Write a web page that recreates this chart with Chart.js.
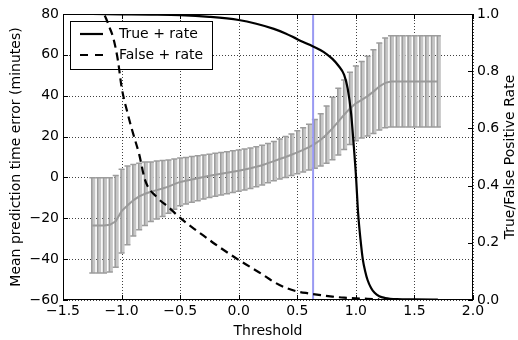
<!DOCTYPE html>
<html>
<head>
<meta charset="utf-8">
<script src="https://cdn.jsdelivr.net/npm/chart.js@4/dist/chart.umd.min.js"></script>
<style>
  html, body { margin: 0; padding: 0; background: #fff; }
  #wrap { width: 518px; height: 340px; }
</style>
</head>
<body>
<div id="wrap"><canvas id="chart" width="518" height="340"></canvas></div>
<script>
// thresholds where the mean error was measured
const thresholds = [
  -1.25, -1.20, -1.15, -1.10, -1.05, -1.00, -0.95, -0.90, -0.85, -0.80,
  -0.75, -0.70, -0.65, -0.60, -0.55, -0.50, -0.45, -0.40, -0.35, -0.30,
  -0.25, -0.20, -0.15, -0.10, -0.05, 0.00, 0.05, 0.10, 0.15, 0.20,
  0.25, 0.30, 0.35, 0.40, 0.45, 0.50, 0.55, 0.60, 0.65, 0.70,
  0.75, 0.80, 0.85, 0.90, 0.95, 1.00, 1.05, 1.10, 1.15, 1.20,
  1.25, 1.30, 1.35, 1.40, 1.45, 1.50, 1.55, 1.60, 1.65, 1.70
];
const meanError = [
  -23.5, -23.5, -23.5, -23.2, -21.5, -16.5, -13.7, -11.2, -9.3, -8.0,
  -7.0, -6.2, -5.4, -4.5, -3.3, -2.2, -1.6, -1.0, -0.4, 0.2,
  0.8, 1.3, 1.8, 2.3, 2.8, 3.3, 3.9, 4.5, 5.2, 6.0,
  7.0, 8.0, 9.0, 10.0, 11.1, 12.3, 13.5, 14.8, 16.4, 18.4,
  21.0, 24.0, 27.3, 30.7, 33.8, 36.3, 38.0, 39.8, 42.0, 44.5,
  46.3, 47.0, 47.0, 47.0, 47.0, 47.0, 47.0, 47.0, 47.0, 47.0
];
const errSize = [
  23.3, 23.3, 23.3, 23.1, 22.5, 20.5, 19.3, 17.5, 16.3, 15.5,
  14.6, 14.2, 13.7, 13.0, 12.3, 11.7, 11.4, 11.2, 11.0, 10.8,
  10.6, 10.5, 10.4, 10.3, 10.2, 10.1, 10.0, 9.9, 9.8, 9.7,
  9.6, 9.6, 9.8, 10.0, 10.2, 10.5, 10.8, 11.2, 11.9, 12.8,
  14.0, 15.3, 16.3, 17.0, 17.7, 18.3, 18.7, 19.5, 20.5, 21.3,
  22.0, 22.3, 22.3, 22.3, 22.3, 22.3, 22.3, 22.3, 22.3, 22.3
];

// true positive rate curve
const tprX = [-1.25, -1.0, -0.75, -0.5, -0.25, 0.0, 0.15, 0.3, 0.4, 0.5, 0.6, 0.7, 0.75, 0.8, 0.85, 0.9,
  0.93, 0.96, 0.98, 1.0, 1.02, 1.04, 1.06, 1.08, 1.1, 1.13, 1.16, 1.2, 1.25, 1.35, 1.5, 1.7];
const tprY = [1.0, 0.999, 0.998, 0.996, 0.99, 0.979, 0.966, 0.948, 0.932, 0.912, 0.893, 0.873, 0.86, 0.843, 0.82, 0.787,
  0.74, 0.65, 0.55, 0.44, 0.30, 0.21, 0.14, 0.10, 0.07, 0.042, 0.025, 0.013, 0.007, 0.003, 0.002, 0.001];

// false positive rate curve
const fprX = [-1.25, -1.2, -1.16, -1.1, -1.07, -1.03, -1.0, -0.95, -0.9, -0.85, -0.8, -0.7, -0.6, -0.5, -0.4,
  -0.3, -0.2, -0.1, 0.0, 0.1, 0.2, 0.3, 0.4, 0.5, 0.6, 0.7, 0.8, 0.9, 1.0, 1.1, 1.2];
const fprY = [1.0, 1.0, 1.0, 0.95, 0.915, 0.835, 0.745, 0.655, 0.58, 0.51, 0.42, 0.36, 0.325, 0.287, 0.255,
  0.225, 0.195, 0.167, 0.14, 0.115, 0.09, 0.063, 0.043, 0.03, 0.023, 0.017, 0.012, 0.008, 0.006, 0.004, 0.002];

const chosenThreshold = 0.635;

const xTicks = [-1.5, -1.0, -0.5, 0.0, 0.5, 1.0, 1.5, 2.0];
const errTicks = [-60, -40, -20, 0, 20, 40, 60, 80];
const rateTicks = [0.0, 0.2, 0.4, 0.6, 0.8, 1.0];

const FONT = 'DejaVu Sans';
Chart.defaults.font.family = FONT;
Chart.defaults.font.size = 14;
Chart.defaults.color = '#000';

const minus = s => s.replace('-', '\u2212');

const drawPlot = {
  id: 'drawPlot',
  beforeDatasetsDraw(chart) {
    const {ctx, chartArea: a, scales} = chart;
    ctx.save();
    ctx.strokeStyle = 'rgba(0,0,0,0.75)';
    ctx.lineWidth = 1;
    ctx.setLineDash([1, 2]);
    xTicks.forEach(v => {
      const px = Math.round(scales.x.getPixelForValue(v)) + 0.5;
      ctx.beginPath(); ctx.moveTo(px, a.top); ctx.lineTo(px, a.bottom); ctx.stroke();
    });
    errTicks.forEach(v => {
      const py = Math.round(scales.y.getPixelForValue(v)) + 0.5;
      ctx.beginPath(); ctx.moveTo(a.left, py); ctx.lineTo(a.right, py); ctx.stroke();
    });
    ctx.restore();
  },
  beforeDatasetDraw(chart, args) {
    const {ctx, scales} = chart;
    if (args.index === 0) {
      // error bars
      ctx.save();
      thresholds.forEach((t, i) => {
        const px = scales.x.getPixelForValue(t);
        const top = scales.y.getPixelForValue(meanError[i] + errSize[i]);
        const bot = scales.y.getPixelForValue(meanError[i] - errSize[i]);
        ctx.fillStyle = '#c6c6c6';
        ctx.fillRect(px - 1, top, 4, bot - top);
        ctx.strokeStyle = '#9c9c9c';
        ctx.lineWidth = 1.5;
        ctx.beginPath(); ctx.moveTo(px - 0.5, top); ctx.lineTo(px - 0.5, bot); ctx.stroke();
        ctx.beginPath();
        ctx.moveTo(px - 3, top); ctx.lineTo(px + 3, top);
        ctx.moveTo(px - 3, bot); ctx.lineTo(px + 3, bot);
        ctx.stroke();
      });
      ctx.restore();
    }
    if (args.index === 2) {
      // legend sits under the rate curves
      ctx.save();
      ctx.fillStyle = '#fff';
      ctx.fillRect(70, 21, 143, 49);
      ctx.strokeStyle = '#000';
      ctx.lineWidth = 1;
      ctx.strokeRect(70.5, 21.5, 142, 48);
      ctx.lineWidth = 2.2;
      ctx.beginPath(); ctx.moveTo(80, 34); ctx.lineTo(103, 34); ctx.stroke();
      ctx.setLineDash([8, 7]);
      ctx.beginPath(); ctx.moveTo(80, 55); ctx.lineTo(103, 55); ctx.stroke();
      ctx.setLineDash([]);
      ctx.fillStyle = '#000';
      ctx.font = '14px ' + FONT;
      ctx.textBaseline = 'middle';
      ctx.fillText('True + rate', 119, 34);
      ctx.fillText('False + rate', 119, 55);
      ctx.restore();
    }
  },
  afterDraw(chart) {
    const {ctx, chartArea: a, scales} = chart;
    ctx.save();
    ctx.strokeStyle = '#000';
    ctx.lineWidth = 1;
    ctx.strokeRect(a.left + 0.5, a.top + 0.5, a.right - a.left - 1, a.bottom - a.top - 1);
    const tl = 5;
    ctx.beginPath();
    xTicks.forEach(v => {
      const px = Math.round(scales.x.getPixelForValue(v)) + 0.5;
      ctx.moveTo(px, a.bottom); ctx.lineTo(px, a.bottom - tl);
      ctx.moveTo(px, a.top); ctx.lineTo(px, a.top + tl);
    });
    errTicks.forEach(v => {
      const py = Math.round(scales.y.getPixelForValue(v)) + 0.5;
      ctx.moveTo(a.left, py); ctx.lineTo(a.left + tl, py);
    });
    rateTicks.forEach(v => {
      const py = Math.round(scales.y2.getPixelForValue(v)) + 0.5;
      ctx.moveTo(a.right, py); ctx.lineTo(a.right - tl, py);
    });
    ctx.stroke();
    // right axis title reads bottom to top
    ctx.translate(510, (a.top + a.bottom) / 2);
    ctx.rotate(-Math.PI / 2);
    ctx.fillStyle = '#000';
    ctx.font = '14px ' + FONT;
    ctx.textAlign = 'center';
    ctx.textBaseline = 'middle';
    ctx.fillText('True/False Positive Rate', 0, 0);
    ctx.restore();
  }
};

new Chart(document.getElementById('chart'), {
  type: 'line',
  data: {
    datasets: [
      {
        label: 'mean error',
        data: thresholds.map((t, i) => ({x: t, y: meanError[i]})),
        yAxisID: 'y',
        borderColor: '#9a9a9a',
        borderWidth: 2,
        pointRadius: 0,
        order: 4
      },
      {
        label: 'chosen threshold',
        data: [{x: chosenThreshold, y: -60}, {x: chosenThreshold, y: 80}],
        yAxisID: 'y',
        borderColor: '#9a9af2',
        borderWidth: 2,
        pointRadius: 0,
        order: 3
      },
      {
        label: 'False + rate',
        data: fprX.map((x, i) => ({x, y: fprY[i]})),
        yAxisID: 'y2',
        borderColor: '#000',
        borderWidth: 2.2,
        borderDash: [8, 5],
        pointRadius: 0,
        cubicInterpolationMode: 'monotone',
        order: 2
      },
      {
        label: 'True + rate',
        data: tprX.map((x, i) => ({x, y: tprY[i]})),
        yAxisID: 'y2',
        borderColor: '#000',
        borderWidth: 2.2,
        pointRadius: 0,
        cubicInterpolationMode: 'monotone',
        order: 1
      }
    ]
  },
  options: {
    responsive: false,
    animation: false,
    devicePixelRatio: 1,
    layout: { padding: { top: 14, left: 0, right: 0, bottom: 0 } },
    plugins: { legend: { display: false }, tooltip: { enabled: false } },
    scales: {
      x: {
        type: 'linear',
        position: 'bottom',
        min: -1.5, max: 2.0,
        afterBuildTicks: s => { s.ticks = xTicks.map(v => ({value: v})); },
        afterFit: s => { s.height = 40; },
        grid: { display: false, drawTicks: false },
        border: { display: false },
        ticks: {
          padding: 3, maxRotation: 0, autoSkip: false, color: '#000',
          callback: v => minus(v.toFixed(1))
        },
        title: { display: true, text: 'Threshold', color: '#000', padding: { top: 0, bottom: 0 } }
      },
      y: {
        position: 'left',
        min: -60, max: 80,
        afterBuildTicks: s => { s.ticks = errTicks.map(v => ({value: v})); },
        afterFit: s => { s.width = 63; },
        grid: { display: false, drawTicks: false },
        border: { display: false },
        ticks: { padding: 4, color: '#000', callback: v => minus(String(v)) },
        title: { display: true, text: 'Mean prediction time error (minutes)', color: '#000', padding: { top: 8, bottom: 0 } }
      },
      y2: {
        position: 'right',
        min: 0, max: 1,
        afterBuildTicks: s => { s.ticks = rateTicks.map(v => ({value: v})); },
        afterFit: s => { s.width = 45; },
        grid: { display: false, drawTicks: false },
        border: { display: false },
        ticks: { padding: 4, color: '#000', callback: v => v.toFixed(1) }
      }
    }
  },
  plugins: [drawPlot]
});
</script>
</body>
</html>
